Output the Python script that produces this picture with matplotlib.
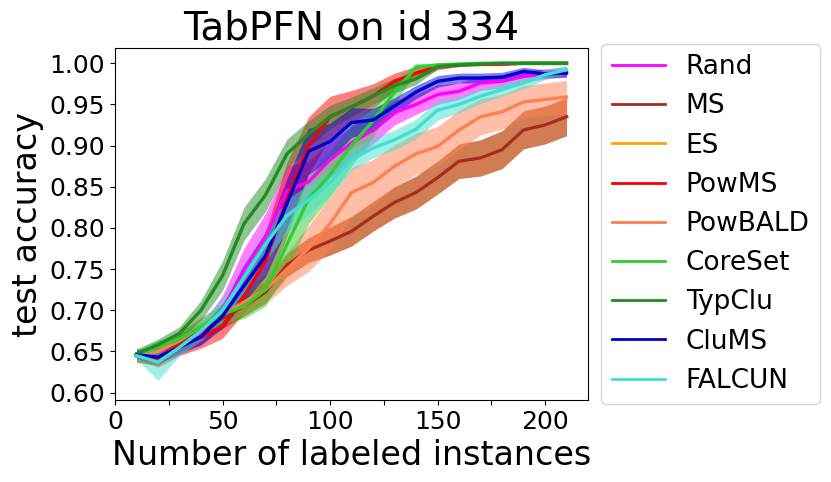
import matplotlib
matplotlib.use("Agg")
import matplotlib.pyplot as plt
import numpy as np

# number of labeled instances
n_labeled = [10, 20, 30, 40, 50, 60, 70, 80, 90, 100, 110, 120, 130, 140, 150, 160, 170, 180, 190, 200, 210]

rand_mean = [0.645, 0.651, 0.658, 0.670, 0.700, 0.750, 0.790, 0.845, 0.856, 0.883, 0.903, 0.919, 0.940, 0.950, 0.962, 0.966, 0.976, 0.978, 0.984, 0.987, 0.990]
rand_std = [0.005, 0.008, 0.008, 0.012, 0.018, 0.025, 0.028, 0.030, 0.025, 0.022, 0.020, 0.017, 0.015, 0.012, 0.012, 0.010, 0.009, 0.008, 0.007, 0.006, 0.006]

ms_mean = [0.645, 0.643, 0.660, 0.675, 0.690, 0.705, 0.722, 0.755, 0.773, 0.784, 0.796, 0.814, 0.831, 0.843, 0.861, 0.881, 0.885, 0.895, 0.919, 0.925, 0.935]
ms_std = [0.008, 0.010, 0.010, 0.010, 0.012, 0.012, 0.013, 0.014, 0.015, 0.017, 0.018, 0.018, 0.019, 0.020, 0.020, 0.021, 0.022, 0.023, 0.023, 0.023, 0.023]

# ES is identical to MS here (binary task)
es_mean = list(ms_mean)
es_std = list(ms_std)

powms_mean = [0.646, 0.641, 0.657, 0.667, 0.681, 0.717, 0.760, 0.835, 0.900, 0.935, 0.947, 0.960, 0.978, 0.988, 0.996, 0.998, 0.999, 0.999, 1.000, 1.000, 1.000]
powms_std = [0.006, 0.010, 0.012, 0.013, 0.015, 0.020, 0.035, 0.045, 0.035, 0.025, 0.020, 0.015, 0.010, 0.008, 0.004, 0.002, 0.002, 0.002, 0.001, 0.001, 0.001]

powbald_mean = [0.645, 0.650, 0.663, 0.680, 0.695, 0.710, 0.725, 0.750, 0.775, 0.805, 0.843, 0.855, 0.875, 0.890, 0.899, 0.919, 0.935, 0.941, 0.953, 0.956, 0.959]
powbald_std = [0.006, 0.008, 0.010, 0.012, 0.013, 0.015, 0.017, 0.020, 0.028, 0.032, 0.030, 0.028, 0.026, 0.025, 0.024, 0.024, 0.022, 0.021, 0.020, 0.020, 0.020]

coreset_mean = [0.645, 0.655, 0.665, 0.680, 0.695, 0.705, 0.725, 0.780, 0.835, 0.865, 0.900, 0.930, 0.965, 0.995, 0.998, 0.999, 1.000, 1.000, 1.000, 1.000, 1.000]
coreset_std = [0.006, 0.008, 0.008, 0.010, 0.012, 0.015, 0.020, 0.030, 0.030, 0.028, 0.025, 0.020, 0.015, 0.005, 0.002, 0.002, 0.001, 0.001, 0.001, 0.001, 0.001]

typclu_mean = [0.647, 0.658, 0.672, 0.700, 0.742, 0.805, 0.840, 0.890, 0.914, 0.935, 0.947, 0.960, 0.973, 0.981, 0.996, 0.998, 0.999, 1.000, 1.000, 1.000, 1.000]
typclu_std = [0.006, 0.007, 0.008, 0.012, 0.018, 0.020, 0.020, 0.018, 0.016, 0.014, 0.012, 0.010, 0.009, 0.007, 0.003, 0.002, 0.002, 0.002, 0.002, 0.002, 0.002]

clums_mean = [0.646, 0.643, 0.655, 0.668, 0.693, 0.730, 0.766, 0.830, 0.893, 0.905, 0.928, 0.931, 0.948, 0.965, 0.978, 0.982, 0.982, 0.983, 0.990, 0.987, 0.988]
clums_std = [0.005, 0.008, 0.008, 0.010, 0.015, 0.020, 0.025, 0.030, 0.028, 0.022, 0.018, 0.014, 0.010, 0.008, 0.007, 0.006, 0.006, 0.006, 0.005, 0.005, 0.005]

falcun_mean = [0.645, 0.637, 0.655, 0.675, 0.700, 0.740, 0.780, 0.815, 0.834, 0.855, 0.883, 0.897, 0.907, 0.920, 0.943, 0.950, 0.960, 0.968, 0.976, 0.986, 0.992]
falcun_std = [0.005, 0.022, 0.010, 0.012, 0.015, 0.018, 0.020, 0.020, 0.018, 0.016, 0.013, 0.012, 0.012, 0.012, 0.012, 0.010, 0.009, 0.008, 0.007, 0.006, 0.005]

legend_order = ["Rand", "MS", "ES", "PowMS", "PowBALD", "CoreSet", "TypClu", "CluMS", "FALCUN"]
# drawing order: ES goes under MS
draw = [
    ("ES", es_mean, es_std, "orange"),
    ("Rand", rand_mean, rand_std, "magenta"),
    ("MS", ms_mean, ms_std, "brown"),
    ("PowMS", powms_mean, powms_std, "red"),
    ("PowBALD", powbald_mean, powbald_std, "coral"),
    ("CoreSet", coreset_mean, coreset_std, "limegreen"),
    ("TypClu", typclu_mean, typclu_std, "forestgreen"),
    ("CluMS", clums_mean, clums_std, "mediumblue"),
    ("FALCUN", falcun_mean, falcun_std, "turquoise"),
]

fig = plt.figure(figsize=(8.31, 4.82), dpi=100)
ax = fig.add_subplot(111)
fig.subplots_adjust(left=0.1384, right=0.7076, top=0.9004, bottom=0.1701)

x = np.array(n_labeled)
handles = {}
for name, m, s, c in draw:
    m = np.array(m)
    s = np.array(s)
    line, = ax.plot(x, m, color=c, lw=2.4, label=name)
    ax.fill_between(x, m - s, m + s, color=c, alpha=0.5, lw=0)
    handles[name] = line

ax.set_xlim(0, 220)
ax.set_ylim(0.591, 1.0185)
ticks = np.arange(0, 201, 25)
ax.set_xticks(ticks)
ax.set_xticklabels([str(t) if t % 50 == 0 else "" for t in ticks])
ax.set_yticks(np.arange(0.60, 1.001, 0.05))
ax.tick_params(labelsize=18)

ax.set_title("TabPFN on id 334", fontsize=28)
ax.set_xlabel("Number of labeled instances", fontsize=24)
ax.set_ylabel("test accuracy", fontsize=24)

leg = ax.legend([handles[n] for n in legend_order], legend_order,
                loc="center left", bbox_to_anchor=(1, 0.5), fontsize=19)
for l in leg.get_lines():
    l.set_linewidth(2)

fig.savefig("out.png", dpi=100)
